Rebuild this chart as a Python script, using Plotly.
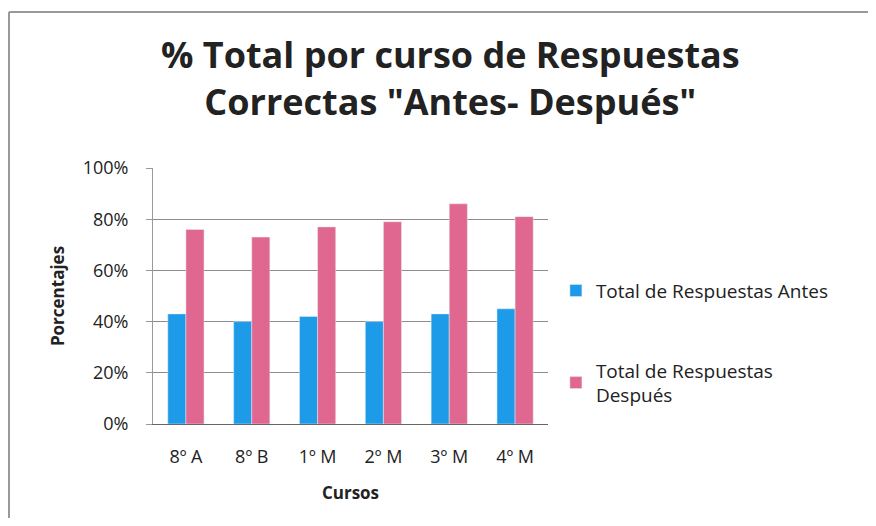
import plotly.graph_objects as go

cursos = ["8º A", "8º B", "1º M", "2º M", "3º M", "4º M"]
antes = [0.43, 0.40, 0.42, 0.40, 0.43, 0.45]
despues = [0.76, 0.73, 0.77, 0.79, 0.86, 0.81]
series_names = ["Total de Respuestas Antes", "Total de Respuestas<br>Después"]
y_ticks = [0, 0.2, 0.4, 0.6, 0.8, 1.0]
titulo = "<b>% Total por curso de Respuestas<br>Correctas \"Antes- Después\"</b>"

FONT = "'Open Sans', Lato, sans-serif"
BLUE = "#1E9BE8"
PINK = "#E0678F"

# the page body adds an 8px margin, so the figure is a bit smaller than the window
fig = go.Figure()
fig.add_trace(go.Bar(x=cursos, y=antes, name=series_names[0], marker_color=BLUE,
                     legendgroup="a"))
fig.add_trace(go.Bar(x=cursos, y=despues, name=series_names[1], marker_color=PINK,
                     legendgroup="b"))

fig.update_layout(
    width=860, height=510,
    margin=dict(l=145, r=320, t=160, b=94),
    paper_bgcolor="white", plot_bgcolor="white",
    font=dict(family=FONT, size=18, color="#222"),
    barmode="group", bargap=0.45, bargroupgap=0,
    showlegend=True,
    legend=dict(x=1.02, y=0.595, xanchor="left", yanchor="top",
                tracegroupgap=52, font=dict(size=19), itemwidth=30,
                bgcolor="rgba(0,0,0,0)"),
    annotations=[dict(text=titulo, xref="paper", yref="paper",
                      x=0.752, y=1.35, xanchor="center", yanchor="middle",
                      showarrow=False, font=dict(size=36, color="#222"))],
    shapes=[
        # chart frame: top and left edges
        dict(type="line", xref="paper", yref="paper",
             x0=-0.3646, x1=1.85, y0=1.609, y1=1.609,
             line=dict(color="#999", width=2)),
        dict(type="line", xref="paper", yref="paper",
             x0=-0.3646, x1=-0.3646, y0=-0.4, y1=1.609,
             line=dict(color="#999", width=2)),
    ],
)

fig.update_yaxes(range=[0, 1], tickvals=y_ticks, tickformat=".0%",
                 showgrid=True, gridcolor="#8c8c8c", gridwidth=1,
                 showline=True, linecolor="#999", linewidth=1,
                 ticks="outside", ticklen=6, tickcolor="#999",
                 ticklabelstandoff=14, zeroline=False,
                 title=dict(text="<b>Porcentajes</b>", font=dict(size=17), standoff=13))
fig.update_xaxes(showline=True, linecolor="#666", linewidth=1,
                 ticks="", ticklabelstandoff=16,
                 title=dict(text="<b>Cursos</b>", font=dict(size=17), standoff=20))

fig.write_html("out.html")
